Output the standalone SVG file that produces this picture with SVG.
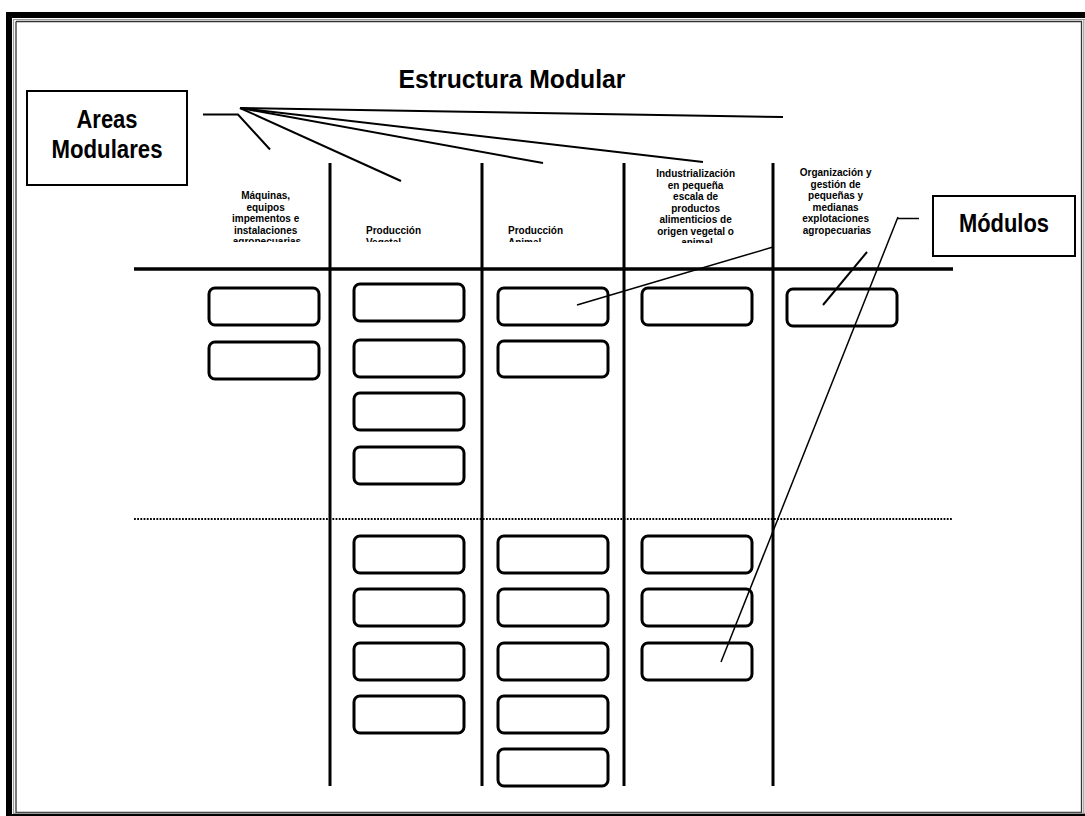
<svg xmlns="http://www.w3.org/2000/svg" width="1085" height="816" viewBox="0 0 1085 816">
<defs>
<style>
.t{font-family:"Liberation Sans",Arial,sans-serif;font-weight:bold;fill:#000}
.sm{font-size:10px}
.big{font-size:25px}
.mod{fill:#fff;stroke:#000;stroke-width:3}
.col{stroke:#000;stroke-width:3;fill:none}
.ln{stroke:#000;stroke-width:2;fill:none}
.fine{stroke:#000;stroke-width:1.5;fill:none}
</style>
<clipPath id="c1"><rect x="200" y="150" width="130" height="92"/></clipPath>
<clipPath id="c2"><rect x="340" y="150" width="140" height="92"/></clipPath>
<clipPath id="c3"><rect x="490" y="150" width="130" height="92"/></clipPath>
<clipPath id="c4"><rect x="630" y="150" width="140" height="93"/></clipPath>
</defs>
<rect x="0" y="0" width="1085" height="816" fill="#fff"/>
<g id="frame">
<rect x="6" y="12" width="1100" height="820" fill="#000"/>
<rect x="12" y="18" width="1100" height="796" fill="#fff"/>
<path d="M13.5 19 V813 M13 19.5 H1085" stroke="#999" stroke-width="1.2" fill="none"/>
<path d="M16 21.5 V812.5 H1081.5 V21.5 H16" stroke="#333" stroke-width="1.3" fill="none"/>
<path d="M13 813.3 H1085 M1083.8 19 V814" stroke="#999" stroke-width="1.2" fill="none"/>
</g>
<g id="title"><text class="t big" x="512" y="88" text-anchor="middle" textLength="227" lengthAdjust="spacingAndGlyphs">Estructura Modular</text></g>
<g id="areas-modulares">
<rect x="27" y="91" width="160" height="94" fill="#fff" stroke="#000" stroke-width="2"/>
<text class="t big" x="107" y="128" text-anchor="middle" textLength="61" lengthAdjust="spacingAndGlyphs">Areas</text>
<text class="t big" x="107" y="158" text-anchor="middle" textLength="111" lengthAdjust="spacingAndGlyphs">Modulares</text>
</g>
<g id="modulos-label">
<rect x="933" y="196" width="142" height="60" fill="#fff" stroke="#000" stroke-width="2"/>
<text class="t big" x="1004" y="232" text-anchor="middle" textLength="90" lengthAdjust="spacingAndGlyphs">Módulos</text>
</g>
<g id="grid">
<line class="col" x1="330" y1="163" x2="330" y2="786"/>
<line class="col" x1="482" y1="163" x2="482" y2="786"/>
<line class="col" x1="624" y1="163" x2="624" y2="786"/>
<line class="col" x1="773" y1="163" x2="773" y2="786"/>
<line x1="134" y1="269" x2="953" y2="269" stroke="#000" stroke-width="3.5"/>
<line x1="134" y1="519" x2="953" y2="519" stroke="#000" stroke-width="2" stroke-dasharray="1.8 1.4"/>
</g>
<g id="area-maquinas" clip-path="url(#c1)">
<text class="t sm" text-anchor="middle">
<tspan x="267" y="199">Máquinas,</tspan>
<tspan x="267" y="210.5">equipos</tspan>
<tspan x="267" y="222">impementos e</tspan>
<tspan x="267" y="233.5">instalaciones</tspan>
<tspan x="267" y="245">agropecuarias</tspan>
</text>
</g>
<g id="area-vegetal" clip-path="url(#c2)">
<text class="t sm"><tspan x="366" y="234">Producción</tspan><tspan x="366" y="245.5">Vegetal</tspan></text>
</g>
<g id="area-animal" clip-path="url(#c3)">
<text class="t sm"><tspan x="508" y="234">Producción</tspan><tspan x="508" y="245.5">Animal</tspan></text>
</g>
<g id="area-industrializacion" clip-path="url(#c4)">
<text class="t sm" text-anchor="middle">
<tspan x="697" y="177">Industrialización</tspan>
<tspan x="697" y="188.5">en pequeña</tspan>
<tspan x="697" y="200">escala de</tspan>
<tspan x="697" y="211.5">productos</tspan>
<tspan x="697" y="223">alimenticios de</tspan>
<tspan x="697" y="234.5">origen vegetal o</tspan>
<tspan x="697" y="246">animal</tspan>
</text>
</g>
<g id="area-organizacion">
<text class="t sm" text-anchor="middle">
<tspan x="837" y="176">Organización y</tspan>
<tspan x="837" y="187.5">gestión de</tspan>
<tspan x="837" y="199">pequeñas y</tspan>
<tspan x="837" y="210.5">medianas</tspan>
<tspan x="837" y="222">explotaciones</tspan>
<tspan x="837" y="233.5">agropecuarias</tspan>
</text>
</g>
<g id="modules">
<rect id="m1a" class="mod" x="209" y="288" width="110" height="37" rx="6"/>
<rect id="m1b" class="mod" x="209" y="342" width="110" height="37" rx="6"/>
<rect id="m2a" class="mod" x="354" y="284" width="110" height="37" rx="6"/>
<rect id="m2b" class="mod" x="354" y="340" width="110" height="37" rx="6"/>
<rect id="m2c" class="mod" x="354" y="393" width="110" height="37" rx="6"/>
<rect id="m2d" class="mod" x="354" y="447" width="110" height="37" rx="6"/>
<rect id="m2e" class="mod" x="354" y="536" width="110" height="37" rx="6"/>
<rect id="m2f" class="mod" x="354" y="589" width="110" height="37" rx="6"/>
<rect id="m2g" class="mod" x="354" y="643" width="110" height="37" rx="6"/>
<rect id="m2h" class="mod" x="354" y="696" width="110" height="37" rx="6"/>
<rect id="m3a" class="mod" x="498" y="288" width="110" height="37" rx="6"/>
<rect id="m3b" class="mod" x="498" y="341" width="110" height="36" rx="6"/>
<rect id="m3c" class="mod" x="498" y="536" width="110" height="37" rx="6"/>
<rect id="m3d" class="mod" x="498" y="589" width="110" height="37" rx="6"/>
<rect id="m3e" class="mod" x="498" y="643" width="110" height="37" rx="6"/>
<rect id="m3f" class="mod" x="498" y="696" width="110" height="37" rx="6"/>
<rect id="m3g" class="mod" x="498" y="749" width="110" height="37" rx="6"/>
<rect id="m4a" class="mod" x="642" y="288" width="110" height="37" rx="6"/>
<rect id="m4b" class="mod" x="642" y="536" width="110" height="37" rx="6"/>
<rect id="m4c" class="mod" x="642" y="589" width="110" height="37" rx="6"/>
<rect id="m4d" class="mod" x="642" y="643" width="110" height="37" rx="6"/>
<rect id="m5a" class="mod" x="787" y="289" width="110" height="37" rx="6"/>
</g>
<g id="connectors">
<polyline class="ln" points="203,114.5 238,114.5 270,149.5"/>
<line class="ln" x1="240" y1="108" x2="401" y2="181"/>
<line class="ln" x1="240" y1="108" x2="543" y2="163"/>
<line class="ln" x1="240" y1="108" x2="703" y2="162"/>
<line class="ln" x1="240" y1="108" x2="783" y2="117"/>
<line class="fine" x1="919" y1="218.5" x2="898" y2="218.5"/>
<line class="fine" x1="898" y1="217" x2="721" y2="662"/>
<line class="ln" x1="867" y1="252" x2="823" y2="305"/>
<line class="fine" x1="773" y1="247" x2="577" y2="305"/>
</g>
</svg>
